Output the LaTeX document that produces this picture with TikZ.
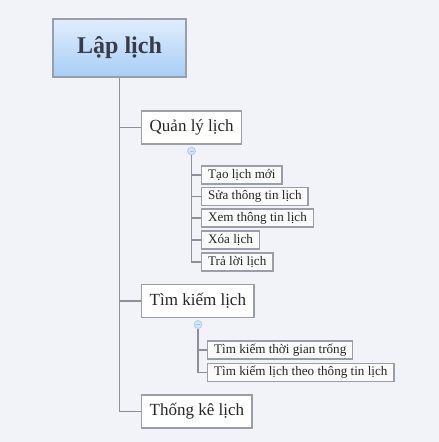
\documentclass[tikz,border=0pt]{standalone}
\usepackage{fontspec}
\setmainfont{Liberation Serif}
\definecolor{bg}{HTML}{F2F3F8}
\definecolor{edge}{HTML}{9A9EA6}
\definecolor{conn}{HTML}{8C9098}
\definecolor{rtop}{HTML}{E0EDFC}
\definecolor{rbot}{HTML}{A8CEF7}
\definecolor{rtext}{HTML}{3A3B48}
\definecolor{knob}{HTML}{D3E3F8}
\definecolor{knobe}{HTML}{A9C5EC}
\begin{document}
\begin{tikzpicture}[x=1pt,y=-1pt,
  rootbox/.style={draw=edge,line width=1.2pt,top color=rtop,bottom color=rbot,
    minimum width=133pt,minimum height=58pt,inner sep=0pt,
    font=\fontsize{24}{26}\selectfont\bfseries,text=rtext},
  mainbox/.style={draw=edge,line width=1.4pt,fill=white,anchor=west,
    minimum height=33pt,inner xsep=8pt,inner ysep=0pt,
    font=\fontsize{17}{19}\selectfont,text=black!85},
  subbox/.style={draw=edge,line width=1.4pt,fill=white!96!gray,anchor=west,
    minimum height=18pt,inner xsep=6.5pt,inner ysep=0pt,
    font=\fontsize{13.1}{15}\selectfont,text=black!85},
  link/.style={draw=conn,line width=1.3pt},
  knobc/.style={circle,draw=knobe,fill=knob,line width=0.6pt,minimum size=8pt,inner sep=0pt}
]
\fill[bg] (0,0) rectangle (439,442);
\useasboundingbox (0,0) rectangle (439,442);

\node[rootbox] (root) at (119.5,48) {Lập lịch};

\node[mainbox] (q) at (141,127.5) {Quản lý lịch};
\node[mainbox] (t) at (141,301) {Tìm kiếm lịch};
\node[mainbox] (k) at (141,411.5) {Thống kê lịch};

\node[knobc] (kq) at (191.5,151) {};
\draw[knobe,line width=0.8pt] ([xshift=-2pt]kq.center) -- ([xshift=2pt]kq.center);
\node[knobc] (kt) at (198,324.5) {};
\draw[knobe,line width=0.8pt] ([xshift=-2pt]kt.center) -- ([xshift=2pt]kt.center);

\node[subbox] (q1) at (201,175) {Tạo lịch mới};
\node[subbox] (q2) at (201,196.5) {Sửa thông tin lịch};
\node[subbox] (q3) at (201,218) {Xem thông tin lịch};
\node[subbox] (q4) at (201,240) {Xóa lịch};
\node[subbox] (q5) at (201,262) {Trả lời lịch};

\node[subbox] (t1) at (207,350) {Tìm kiếm thời gian trống};
\node[subbox] (t2) at (207,372.5) {Tìm kiếm lịch theo thông tin lịch};

% main trunk
\coordinate (trunk) at (root.south);
\draw[link] (root.south) |- (k.west);
\draw[link] (trunk |- q.west) -- (q.west);
\draw[link] (trunk |- t.west) -- (t.west);

% sub trunks
\draw[link] (kq.south) |- (q5.west);
\foreach \n in {q1,q2,q3,q4} \draw[link] (kq |- \n.west) -- (\n.west);
\draw[link] (kt.south) |- (t2.west);
\draw[link] (kt |- t1.west) -- (t1.west);
\end{tikzpicture}
\end{document}
